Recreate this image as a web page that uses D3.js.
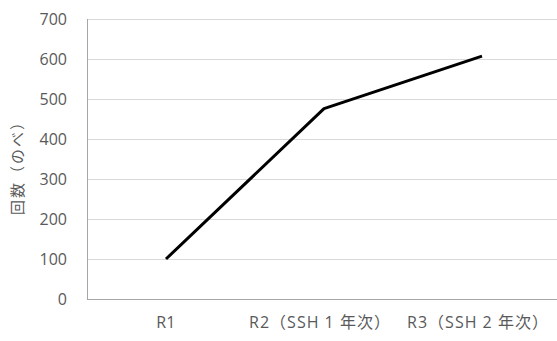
<!DOCTYPE html>
<html>
<head>
<meta charset="utf-8">
<script src="https://cdn.jsdelivr.net/npm/d3@7"></script>
<style>
  body { margin: 0; background: #fff; }
  text { font-family: "Open Sans", "Noto Sans CJK JP", sans-serif; fill: #595959; }
</style>
</head>
<body>
<div id="chart"></div>
<script>
// chart data
var categories = ["R1", "R2（SSH 1 年次）", "R3（SSH 2 年次）"];
var counts = [100, 476, 607];
var yTicks = [0, 100, 200, 300, 400, 500, 600, 700];
var yTitle = "回数（のべ）";

var svgwdth = 557;
var svghght = 341;

var margin = {top: 19, right: -4, bottom: 42, left: 87};
var width = svgwdth - margin.left - margin.right;
var height = svghght - margin.top - margin.bottom;

var svg = d3.select("#chart")
  .append("svg")
  .attr("width", svgwdth)
  .attr("height", svghght);

var chartGroup = svg.append("g")
  .attr("transform", `translate(${margin.left}, ${margin.top})`);

var xBand = d3.scaleBand()
  .domain(categories)
  .range([0, width]);

var yLinearScale = d3.scaleLinear()
  .domain([0, 700])
  .range([height, 0]);

// gridlines
chartGroup.append("g")
  .selectAll("line")
  .data(yTicks.filter(d => d > 0))
  .enter()
  .append("line")
  .attr("x1", 0)
  .attr("x2", width)
  .attr("y1", d => yLinearScale(d) + 0.5)
  .attr("y2", d => yLinearScale(d) + 0.5)
  .attr("stroke", "#d9d9d9")
  .attr("stroke-width", 1);

// y axis
var leftAxis = d3.axisLeft(yLinearScale).tickValues(yTicks).tickSize(0).tickPadding(20);
var yAxis = chartGroup.append("g").call(leftAxis);
yAxis.attr("font-size", null).attr("font-family", null);
yAxis.select(".domain").remove();
yAxis.selectAll("text")
  .style("font-size", "16px")
  .style("font-family", "\"Open Sans\", sans-serif")
  .attr("fill", "#595959");

// axis lines
chartGroup.append("line")
  .attr("x1", 0.5).attr("x2", 0.5)
  .attr("y1", 0).attr("y2", height)
  .attr("stroke", "#a6a6a6");
chartGroup.append("line")
  .attr("x1", 0).attr("x2", width)
  .attr("y1", height + 0.5).attr("y2", height + 0.5)
  .attr("stroke", "#a6a6a6");

// x labels
var bottomAxis = d3.axisBottom(xBand).tickSize(0).tickPadding(18);
var xAxis = chartGroup.append("g")
  .attr("transform", `translate(0, ${height})`)
  .call(bottomAxis);
xAxis.attr("font-size", null).attr("font-family", null);
xAxis.select(".domain").remove();
xAxis.selectAll("text")
  .style("font-size", "16px")
  .style("letter-spacing", (d, i) => i === 0 ? "0.3px" : "1px")
  .attr("fill", "#595959")
  .attr("dx", (d, i) => i === 0 ? 0 : -4);

// line
var line = d3.line()
  .x((d, i) => xBand(categories[i]) + xBand.bandwidth() / 2)
  .y(d => yLinearScale(d));

chartGroup.append("path")
  .datum(counts)
  .attr("d", line)
  .attr("fill", "none")
  .attr("stroke", "#000")
  .attr("stroke-width", 3)
  .attr("stroke-linejoin", "round");

// y title
svg.append("text")
  .attr("transform", `translate(23, 164) rotate(-90)`)
  .attr("text-anchor", "middle")
  .style("font-size", "15px")
  .style("letter-spacing", "2px")
  .style("font-family", "\"Noto Sans CJK JP\", sans-serif")
  .text(yTitle);
</script>
</body>
</html>
